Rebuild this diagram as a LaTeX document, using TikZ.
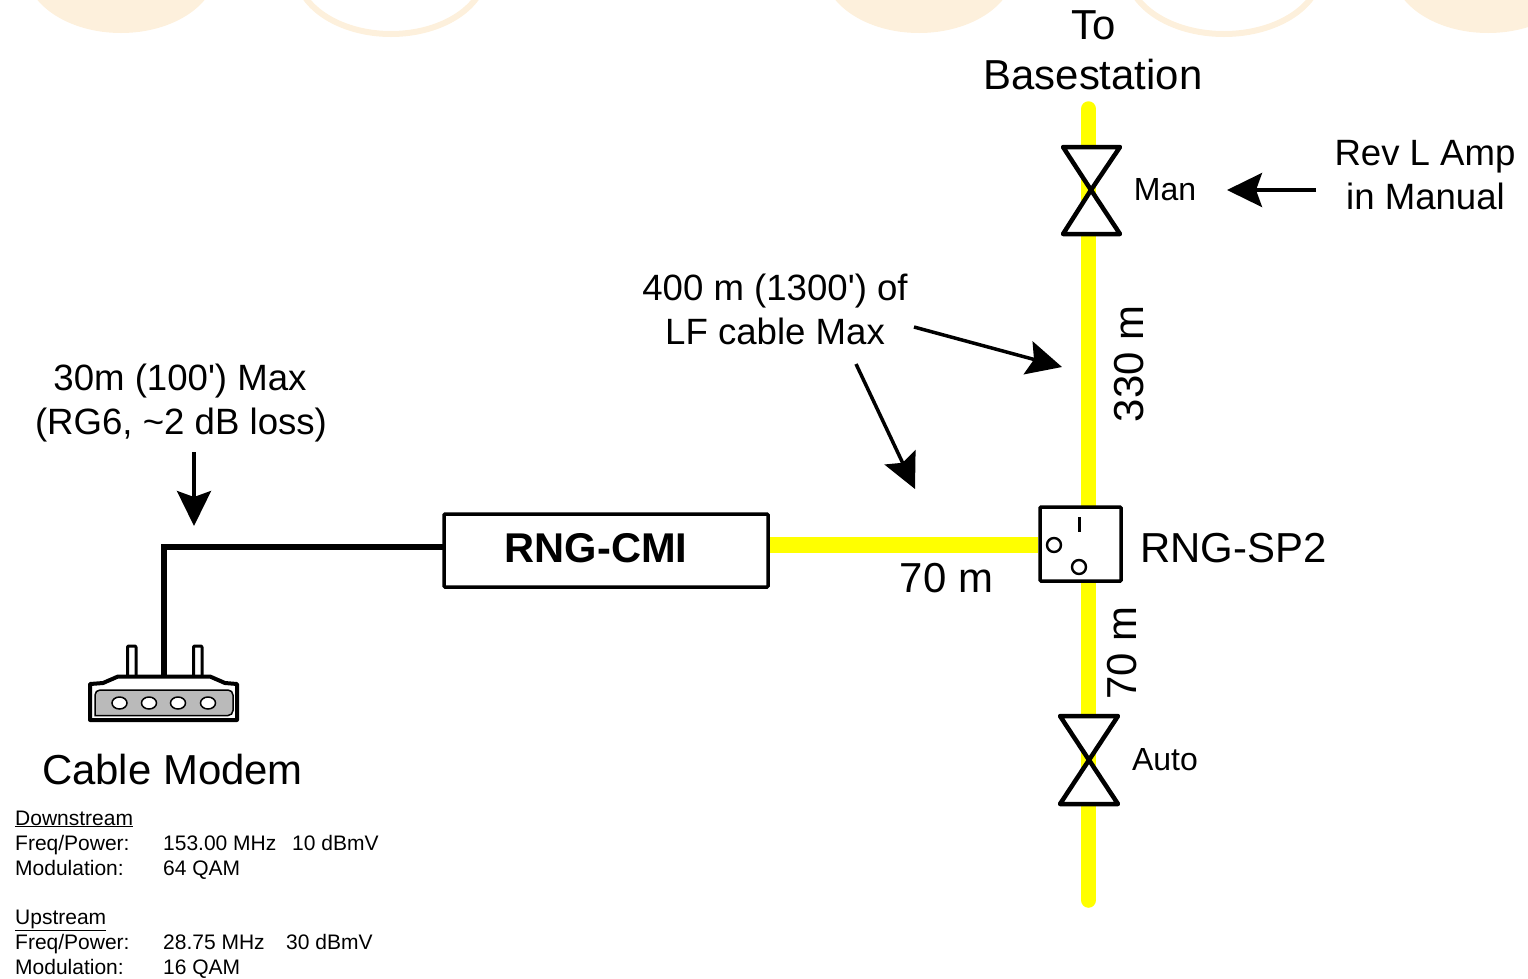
\documentclass[tikz,border=0pt]{standalone}
\usepackage{fontspec}
\setmainfont{Liberation Sans}[Ligatures=TeXOff]
\usetikzlibrary{arrows.meta}
\definecolor{blob}{HTML}{FDF0DC}
\definecolor{cableyellow}{HTML}{FFFF00}
\tikzset{
  x=1pt,y=-1pt,
  lbl/.style={inner sep=0pt,anchor=base,font=\fontsize{41.9}{46}\selectfont},
  midlbl/.style={inner sep=0pt,anchor=base,font=\fontsize{36.6}{42}\selectfont},
  tag/.style={inner sep=0pt,anchor=base,font=\fontsize{32}{38}\selectfont},
  tiny/.style={inner sep=0pt,anchor=base west,font=\fontsize{21}{26}\selectfont},
  boxn/.style={draw=black,line width=3.5pt,fill=white,inner sep=0pt,rounded corners=1pt},
  yline/.style={draw=cableyellow,line width=15.5pt},
  ycap/.style={yline,line cap=round},
  wire/.style={draw=black,line width=6pt,line join=miter},
  pointer/.style={draw=black,line width=3.5pt,-{Stealth[length=35pt,width=34pt,inset=6pt]}},
  tie/.style={draw=black,line width=4.5pt,fill=white,line join=round},
  ink/.style={draw=black,line width=3pt,line join=round},
  thin/.style={draw=black,line width=2.4pt},
  bg/.style={fill=blob},
  ring/.style={draw=blob,line width=6pt}
}
\begin{document}
\begin{tikzpicture}
\useasboundingbox (0,0) rectangle (1528,978);
\clip (0,0) rectangle (1528,978);
% background shapes
\fill[bg] (121,-32) ellipse [x radius=96,y radius=65];
\draw[ring] (391,-30) ellipse [x radius=95,y radius=64];
\fill[bg] (919,-32) ellipse [x radius=96,y radius=65];
\draw[ring] (1224,-30) ellipse [x radius=97,y radius=64];
\fill[bg] (1488,-32) ellipse [x radius=96,y radius=65];
% free ends
\coordinate (vtop) at (1088.5,109);
\coordinate (vbot) at (1088.5,900);
\coordinate (hleft) at (768,545);
\coordinate (hright) at (1038,545);
\coordinate (wa) at (444,547);
\coordinate (wb) at (163.5,547);
\coordinate (wc) at (163.5,678);
% cables
\draw[ycap] (vtop) -- (vbot);
\draw[yline] (hleft) -- (hright);
\draw[wire] (wa) -- (wb) -- (wc);
% boxes
\node[boxn,minimum width=324pt,minimum height=73pt] (cmi) at (606,550.5) {};
\node[inner sep=0pt,anchor=base,font=\fontsize{41.6}{46}\selectfont\bfseries] (cmilabel) at (596,562) {RNG-CMI};
\node[boxn,minimum width=81pt,minimum height=74pt] (sp) at (1080.5,544) {};
\draw[ink] (1079,517) -- (1079,532);
\draw[thin] (1054,545) circle [radius=7];
\draw[thin] (1079,567) circle [radius=7];
% bowties
\draw[tie] (1091,190) -- (1063,147) -- (1120,147) -- cycle;
\draw[tie] (1091,190) -- (1063,234) -- (1120,234) -- cycle;
\draw[tie] (1089,760) -- (1060,716) -- (1118,716) -- cycle;
\draw[tie] (1089,760) -- (1060,804) -- (1118,804) -- cycle;
% modem
\draw[ink,rounded corners=1pt] (127.5,676) -- (127.5,646) -- (136,646) -- (136,676);
\draw[ink,rounded corners=1pt] (193.5,676) -- (193.5,646) -- (202,646) -- (202,676);
\draw[draw=black,line width=4pt,fill=white,line join=round] (90,720) -- (90,684) -- (103,683) -- (118,676.5) -- (210,676.5) -- (225,683) -- (237,684) -- (237,720) -- cycle;
\draw[draw=black,line width=1.5pt,fill=black!27,rounded corners=5pt] (95,715.5) -- (95,690) -- (233,690) -- (233,715.5) [sharp corners] -- cycle;
\foreach \hx in {119.5,149,178,208}{
  \draw[draw=black,line width=1.5pt,fill=white] (\hx,703) ellipse [x radius=7.5,y radius=6];
}
% pointers
\coordinate (p1a) at (1316,190); \coordinate (p1b) at (1227,190);
\coordinate (p2a) at (914,327);  \coordinate (p2b) at (1062,367);
\coordinate (p3a) at (856,364);  \coordinate (p3b) at (915,489);
\coordinate (p4a) at (194,452);  \coordinate (p4b) at (194,526);
\draw[pointer] (p1a) -- (p1b);
\draw[pointer] (p2a) -- (p2b);
\draw[pointer] (p3a) -- (p3b);
\draw[pointer] (p4a) -- (p4b);
% labels
\node[lbl] (to) at (1094,39) {To};
\node[lbl] (base) at (1093,89) {Basestation};
\node[tag] (man) at (1165,200) {Man};
\node[tag] (auto) at (1165,770) {Auto};
\node[midlbl] (rev) at (1425,165) {Rev L Amp};
\node[midlbl] (manual) at (1425.5,209) {in Manual};
\node[midlbl] (lfa) at (775,300) {400 m (1300') of};
\node[midlbl] (lfb) at (775,344) {LF cable Max};
\node[midlbl] (rga) at (180,390) {30m (100') Max};
\node[midlbl] (rgb) at (181,434) {(RG6, \textasciitilde2 dB loss)};
\node[lbl] (splabel) at (1233.5,562) {RNG-SP2};
\node[lbl] (d70) at (946.5,592) {70 m};
\node[lbl,rotate=90] (d330) at (1143,364) {330 m};
\node[lbl,rotate=90] (d70b) at (1136,653) {70 m};
\node[lbl] (cm) at (172.5,784) {Cable Modem};
% table
\node[tiny] (t1) at (15,825) {\underline{Downstream}};
\node[tiny] (t2) at (15,850) {Freq/Power:};
\node[tiny] (t3) at (163,850) {153.00 MHz};
\node[tiny] (t4) at (292,850) {10 dBmV};
\node[tiny] (t5) at (15,875) {Modulation:};
\node[tiny] (t6) at (163,875) {64 QAM};
\node[tiny] (t7) at (15,924) {\underline{Upstream}};
\node[tiny] (t8) at (15,949) {Freq/Power:};
\node[tiny] (t9) at (163,949) {28.75 MHz};
\node[tiny] (t10) at (286,949) {30 dBmV};
\node[tiny] (t11) at (15,974) {Modulation:};
\node[tiny] (t12) at (163,974) {16 QAM};
\end{tikzpicture}
\end{document}
